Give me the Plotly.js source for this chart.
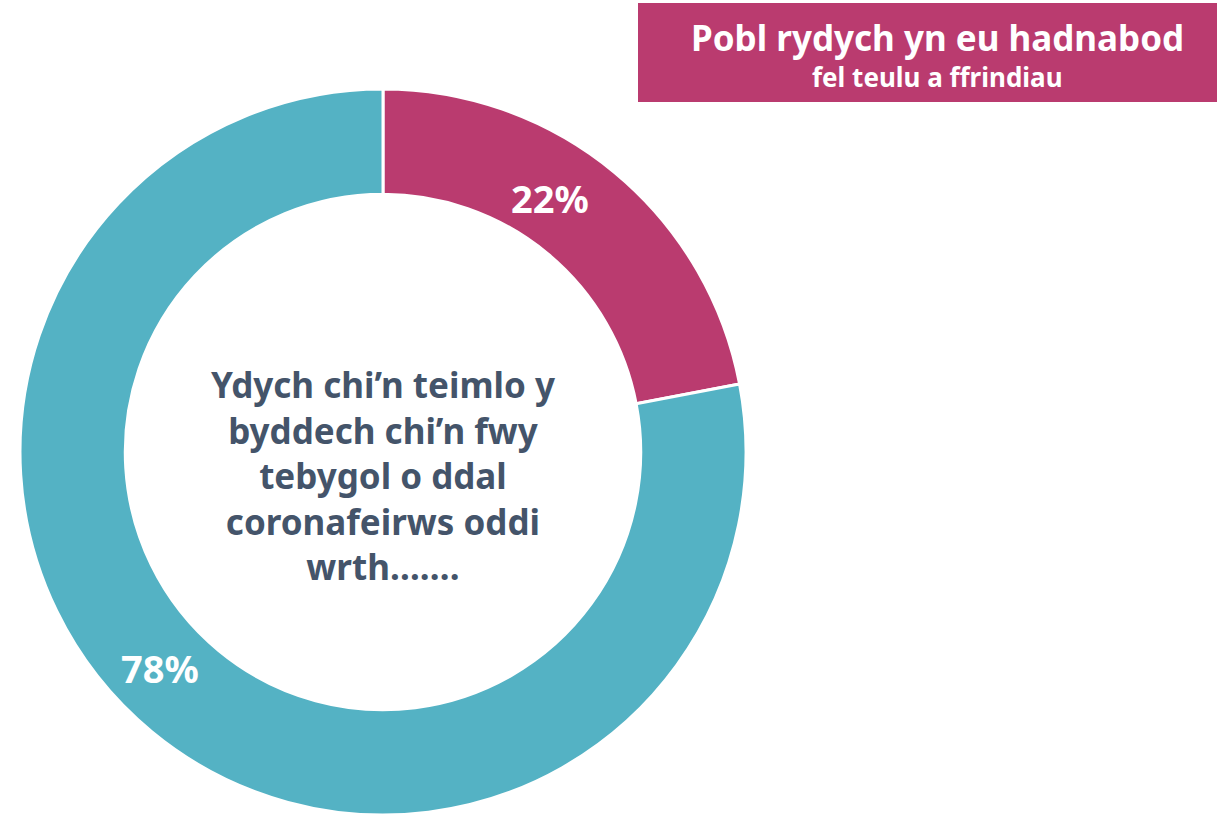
<!DOCTYPE html>
<html>
<head>
<meta charset="utf-8">
<script src="https://cdn.plot.ly/plotly-3.0.1.min.js"></script>
<style>html,body{margin:0;padding:0;background:#fff;} #chart{width:1217px;height:815px;}</style>
</head>
<body>
<div id="chart"></div>
<script>
const categories = ["Pobl rydych yn eu hadnabod fel teulu a ffrindiau", "Arall"];
const values = [22, 78];
const colors = ["#BA3B6F", "#54B2C4"];
const centerLines = ["Ydych chi’n teimlo y", "byddech chi’n fwy", "tebygol o ddal", "coronafeirws oddi", "wrth……."];
const titleLine1 = "Pobl rydych yn eu hadnabod";
const titleLine2 = "fel teulu a ffrindiau";

const W = 1217, H = 815;
const FONT = "Noto Sans, sans-serif";
const total = values.reduce((a, b) => a + b, 0);
const pct = values.map(v => Math.round(v / total * 100) + "%");

const trace = {
  type: "pie",
  labels: categories,
  values: values,
  hole: 0.71,
  sort: false,
  direction: "clockwise",
  rotation: 0,
  marker: {colors: colors, line: {color: "#ffffff", width: 3}},
  textinfo: "none",
  hoverinfo: "label+percent",
  showlegend: false,
  domain: {x: [20 / W, 746 / W], y: [0, (H - 89) / H]}
};

const cx = 383 / W;
const layout = {
  width: W, height: H,
  margin: {l: 0, r: 0, t: 0, b: 0},
  paper_bgcolor: "#ffffff",
  showlegend: false,
  shapes: [{
    type: "rect", xref: "paper", yref: "paper",
    x0: 638 / W, x1: 1.01, y0: (H - 102) / H, y1: (H - 3) / H,
    fillcolor: colors[0], line: {width: 0}, layer: "below"
  }],
  annotations: [
    {text: "<b>" + centerLines.join("<br>") + "</b>", x: cx, y: (H - 476) / H, xref: "paper", yref: "paper",
     showarrow: false, xanchor: "center", yanchor: "middle", align: "center",
     font: {family: FONT, size: 35, color: "#44546A"}},
    {text: "<b>" + pct[0] + "</b>", x: 550 / W, y: (H - 198) / H, xref: "paper", yref: "paper",
     showarrow: false, xanchor: "center", yanchor: "middle",
     font: {family: FONT, size: 38, color: "#ffffff"}},
    {text: "<b>" + pct[1] + "</b>", x: 160 / W, y: (H - 668) / H, xref: "paper", yref: "paper",
     showarrow: false, xanchor: "center", yanchor: "middle",
     font: {family: FONT, size: 38, color: "#ffffff"}},
    {text: "<b>" + titleLine1 + "</b>", x: 937 / W, y: (H - 38) / H, xref: "paper", yref: "paper",
     showarrow: false, xanchor: "center", yanchor: "middle",
     font: {family: FONT, size: 35, color: "#ffffff"}},
    {text: "<b>" + titleLine2 + "</b>", x: 937 / W, y: (H - 77) / H, xref: "paper", yref: "paper",
     showarrow: false, xanchor: "center", yanchor: "middle",
     font: {family: FONT, size: 26, color: "#ffffff"}}
  ]
};

Plotly.newPlot("chart", [trace], layout, {displayModeBar: false, staticPlot: true});
</script>
</body>
</html>
